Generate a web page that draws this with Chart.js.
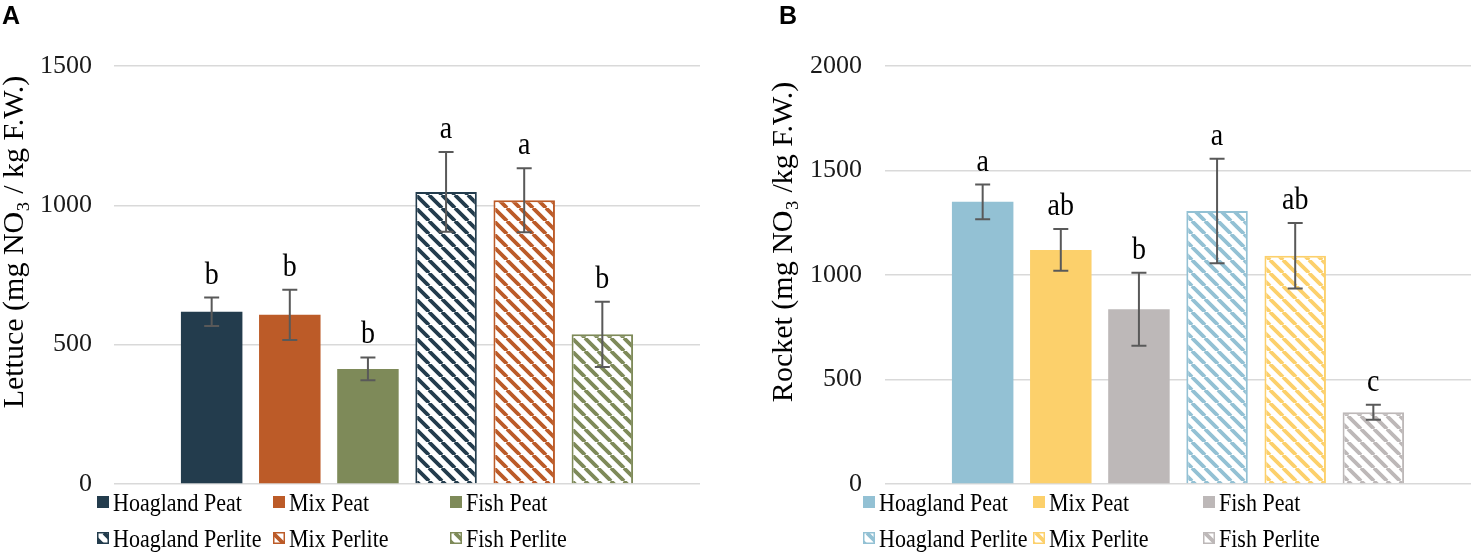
<!DOCTYPE html>
<html>
<head>
<meta charset="utf-8">
<script src="https://cdn.jsdelivr.net/npm/chart.js@4.4.1/dist/chart.umd.min.js"></script>
<style>
  body { margin: 0; background: #fff; }
  #wrap { position: relative; width: 1474px; height: 555px; }
  canvas { position: absolute; top: 0; }
  #c1 { left: 0; }
  #c2 { left: 737px; }
  .panel { position: absolute; top: 1px; font: bold 25px "Liberation Sans", Arial, sans-serif; color: #000; }
</style>
</head>
<body>
<div id="wrap">
  <canvas id="c1" width="737" height="555"></canvas>
  <canvas id="c2" width="737" height="555"></canvas>
  <div class="panel" style="left:2px">A</div>
  <div class="panel" style="left:779px">B</div>
</div>
<script>
// treatments (same order in both panels)
const treatments = ["Hoagland Peat", "Mix Peat", "Fish Peat", "Hoagland Perlite", "Mix Perlite", "Fish Perlite"];

// A - lettuce
const lettuceMeans = [618, 607, 413, 1048, 1018, 537];
const lettuceErrors = [51, 90, 41, 143, 115, 117];
const lettuceLetters = ["b", "b", "b", "a", "a", "b"];
const lettuceTicks = [0, 500, 1000, 1500];

// B - rocket
const rocketMeans = [1350, 1120, 836, 1306, 1092, 343];
const rocketErrors = [83, 100, 175, 250, 157, 36];
const rocketLetters = ["a", "ab", "b", "a", "ab", "c"];
const rocketTicks = [0, 500, 1000, 1500, 2000];

const serif = "'Liberation Serif', 'Times New Roman', serif";

// diagonal hatch (white background, coloured stripes)
function hatch(color) {
    const s = 13;
    const c = document.createElement("canvas");
    c.width = s; c.height = s;
    const g = c.getContext("2d");
    g.fillStyle = "#fff";
    g.fillRect(0, 0, s, s);
    g.strokeStyle = color;
    g.lineWidth = 3.8;
    g.beginPath();
    for (let k = -1; k <= 1; k++) {
        g.moveTo(k * s, 0);
        g.lineTo(k * s + s, s);
    }
    g.stroke();
    return g.createPattern(c, "repeat");
}

// text a bit taller than wide, like the exported figure
function tallText(ctx, text, x, y, k) {
    ctx.save();
    ctx.translate(x, y);
    ctx.scale(1, k);
    ctx.fillText(text, 0, 0);
    ctx.restore();
}

// error bars + significance letters
const errorBars = {
    id: "errorBars",
    afterDatasetsDraw(chart) {
        const ctx = chart.ctx;
        const y = chart.scales.y;
        chart.data.datasets.forEach((ds, i) => {
            chart.getDatasetMeta(i).data.forEach((bar, j) => {
                const v = ds.data[j], e = ds.errors[j];
                const top = y.getPixelForValue(v + e);
                const bot = y.getPixelForValue(v - e);
                ctx.save();
                ctx.strokeStyle = "#595959";
                ctx.lineWidth = 2;
                ctx.beginPath();
                ctx.moveTo(bar.x, top); ctx.lineTo(bar.x, bot);
                ctx.moveTo(bar.x - 7.5, top); ctx.lineTo(bar.x + 7.5, top);
                ctx.moveTo(bar.x - 7.5, bot); ctx.lineTo(bar.x + 7.5, bot);
                ctx.stroke();
                ctx.fillStyle = "#000";
                ctx.font = "28px " + serif;
                ctx.textAlign = "center";
                ctx.textBaseline = "alphabetic";
                tallText(ctx, ds.letter, bar.x, top - 14, 1.15);
                ctx.restore();
            });
        });
    }
};

// vertical axis title
const sideTitle = {
    id: "sideTitle",
    afterDraw(chart, args, opts) {
        const ctx = chart.ctx;
        ctx.save();
        ctx.translate(opts.x, opts.y);
        ctx.rotate(-Math.PI / 2);
        ctx.font = opts.size + "px " + serif;
        ctx.fillStyle = "#000";
        ctx.textAlign = "center";
        ctx.textBaseline = "alphabetic";
        ctx.fillText(opts.text, 0, 0);
        ctx.restore();
    }
};

// two-row legend in three columns
const gridLegend = {
    id: "gridLegend",
    afterDraw(chart, args, opts) {
        const ctx = chart.ctx;
        ctx.save();
        ctx.font = "22px " + serif;
        ctx.textBaseline = "alphabetic";
        chart.data.datasets.forEach((ds, i) => {
            const x = opts.cols[i % 3];
            const yc = opts.rows[Math.floor(i / 3)];
            ctx.fillStyle = ds.backgroundColor;
            ctx.fillRect(x, yc - 6, 12, 12);
            if (ds.borderWidth) {
                ctx.strokeStyle = ds.borderColor;
                ctx.lineWidth = 1.5;
                ctx.strokeRect(x + 0.75, yc - 5.25, 10.5, 10.5);
            }
            ctx.fillStyle = "#000";
            tallText(ctx, ds.label, x + 16, yc + 8.5, 1.18);
        });
        ctx.restore();
    }
};

function makeChart(id, means, errors, letters, ticks, colors, title, yw, tickPad, padRight, cols) {
    const datasets = treatments.map((name, i) => {
        const perlite = i >= 3;
        const col = colors[i % 3];
        return {
            label: name,
            data: [means[i]],
            errors: [errors[i]],
            letter: letters[i],
            backgroundColor: perlite ? hatch(col) : col,
            borderColor: col,
            borderWidth: perlite ? 2 : 0,
            categoryPercentage: 0.8,
            barPercentage: 0.787
        };
    });
    return new Chart(document.getElementById(id), {
        type: "bar",
        data: { labels: [""], datasets: datasets },
        options: {
            responsive: false,
            animation: false,
            layout: { padding: { top: 66, bottom: 71, left: 0, right: padRight } },
            plugins: {
                legend: { display: false },
                tooltip: { enabled: false },
                gridLegend: { cols: cols, rows: [502, 538] },
                sideTitle: title
            },
            scales: {
                x: { display: false },
                y: {
                    min: ticks[0],
                    max: ticks[ticks.length - 1],
                    afterBuildTicks: (s) => { s.ticks = ticks.map(v => ({ value: v })); },
                    afterFit: (s) => { s.width = yw; },
                    border: { display: false },
                    grid: { color: "#D9D9D9", lineWidth: 1.5, drawTicks: false },
                    ticks: {
                        padding: tickPad,
                        color: "#1a1a1a",
                        font: { family: serif, size: 26 },
                        callback: (v) => String(v)
                    }
                }
            }
        },
        plugins: [errorBars, sideTitle, gridLegend]
    });
}

makeChart("c1", lettuceMeans, lettuceErrors, lettuceLetters, lettuceTicks,
    ["#233C4D", "#BC5B28", "#7E8A59"],
    { text: "Lettuce (mg NO\u2083 / kg F.W.)", x: 23, y: 242, size: 30 },
    114, 22, 37, [97, 273, 450]);

makeChart("c2", rocketMeans, rocketErrors, rocketLetters, rocketTicks,
    ["#93C1D4", "#FCD06B", "#BDB8B8"],
    { text: "Rocket (mg NO\u2083 /kg F.W.)", x: 55, y: 242, size: 30 },
    148, 23, 3, [126, 296, 466]);
</script>
</body>
</html>
